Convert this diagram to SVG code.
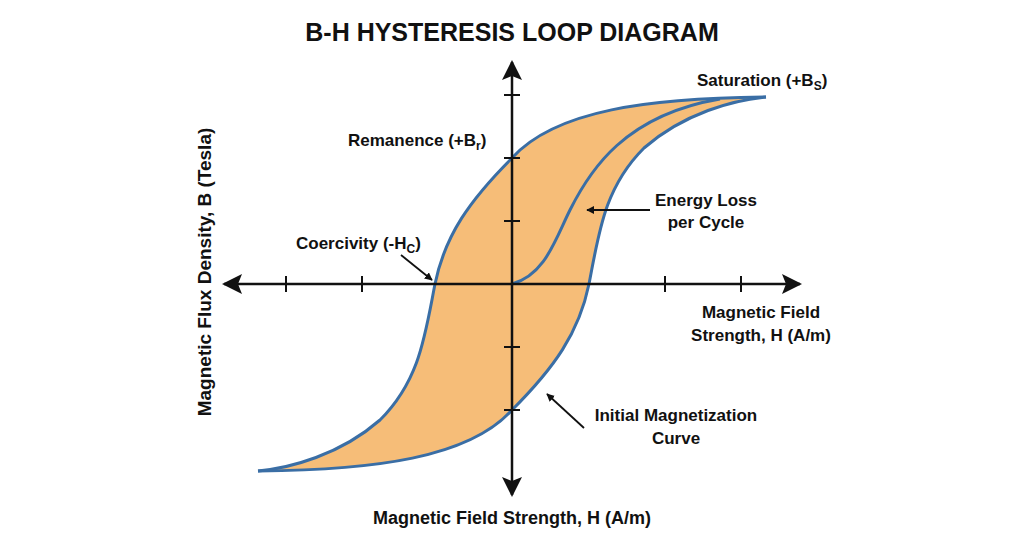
<svg xmlns="http://www.w3.org/2000/svg" width="1024" height="541" viewBox="0 0 1024 541">
<defs>
<marker id="ah" viewBox="0 0 10 10" refX="9" refY="5" markerWidth="8" markerHeight="8" orient="auto-start-reverse" markerUnits="userSpaceOnUse"><path d="M0,0 L10,5 L0,10 z" fill="#111"/></marker>
<marker id="big" viewBox="0 0 10 10" refX="9" refY="5" markerWidth="20" markerHeight="20" orient="auto-start-reverse" markerUnits="userSpaceOnUse"><path d="M0,0 L10,5 L0,10 L2,5 z" fill="#111"/></marker>
<style>
text{font-family:"Liberation Sans",Arial,sans-serif;font-weight:bold;fill:#111;font-size:17px}
.ax{stroke:#111;stroke-width:2.5;fill:none}
.tk{stroke:#111;stroke-width:2;fill:none}
.crv{stroke:#3a6ea5;stroke-width:3;fill:none}
.ld{stroke:#111;stroke-width:1.8;fill:none}
.sub{font-size:12px}
</style>
</defs>
<rect width="1024" height="541" fill="#fff"/>
<text x="512" y="41" text-anchor="middle" style="font-size:25px">B-H HYSTERESIS LOOP DIAGRAM</text>
<g id="loop">
<path d="M766,97 C650,98 555,110 512,158 C470,200 445,235 435,284 C425,335 420,380 380,420 C340,455 290,468 258,471 C374,470 469,458 512,410 C554,368 579,333 589,284 C599,233 604,188 644,148 C684,113 734,100 766,97 Z" fill="#f6bd78"/>
<path class="crv" d="M766,97 C650,98 555,110 512,158 C470,200 445,235 435,284 C425,335 420,380 380,420 C340,455 290,468 258,471"/>
<path class="crv" d="M258,471 C374,470 469,458 512,410 C554,368 579,333 589,284 C599,233 604,188 644,148 C684,113 734,100 766,97"/>
<path class="crv" d="M512,284 C545,275 555,240 570,210 C590,170 625,115 720,99"/>
</g>
<g id="axes">
<line class="ax" x1="224" y1="284" x2="800" y2="284" marker-start="url(#big)" marker-end="url(#big)"/>
<line class="ax" x1="512" y1="62" x2="512" y2="495" marker-start="url(#big)" marker-end="url(#big)"/>
<path class="tk" d="M286,276v16M362,276v16M665,276v16M741,276v16M504,95h16M504,158h16M504,221h16M504,347h16M504,410h16"/>
</g>
<g id="connectors">
<line class="ld" x1="401" y1="255" x2="432" y2="280" marker-end="url(#ah)"/>
<line class="ld" x1="650" y1="210" x2="587" y2="210" marker-end="url(#ah)"/>
<line class="ld" x1="584" y1="428" x2="547" y2="394" marker-end="url(#ah)"/>
</g>
<g id="labels">
<text x="697" y="86">Saturation (+B<tspan class="sub" dy="4">S</tspan><tspan dy="-4">)</tspan></text>
<text x="348" y="146">Remanence (+B<tspan class="sub" dy="4">r</tspan><tspan dy="-4">)</tspan></text>
<text x="706" y="206" text-anchor="middle">Energy Loss</text>
<text x="706" y="228" text-anchor="middle">per Cycle</text>
<text x="296" y="249">Coercivity (-H<tspan class="sub" dy="4">C</tspan><tspan dy="-4">)</tspan></text>
<text x="761" y="318" text-anchor="middle">Magnetic Field</text>
<text x="761" y="341" text-anchor="middle">Strength, H (A/m)</text>
<text x="676" y="421" text-anchor="middle">Initial Magnetization</text>
<text x="676" y="444" text-anchor="middle">Curve</text>
<text x="512" y="524" text-anchor="middle" style="font-size:18px">Magnetic Field Strength, H (A/m)</text>
<text transform="translate(211,272) rotate(-90)" text-anchor="middle" style="font-size:19px">Magnetic Flux Density, B (Tesla)</text>
</g>
</svg>
